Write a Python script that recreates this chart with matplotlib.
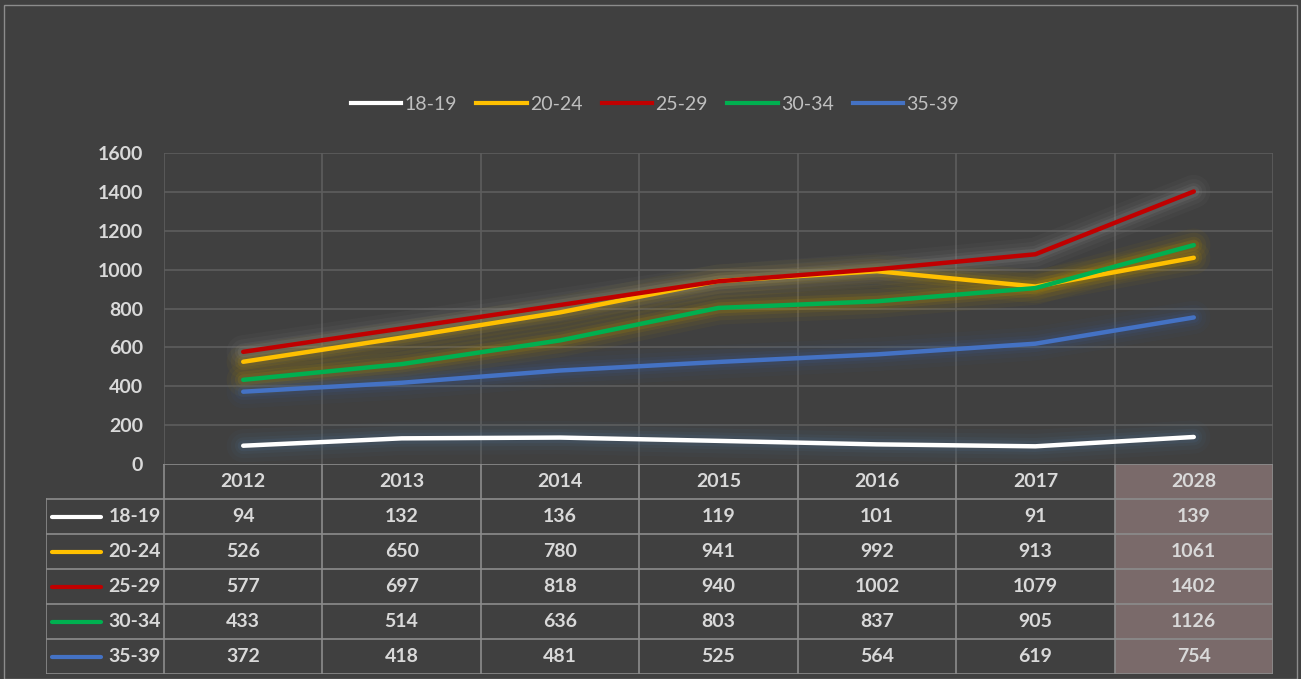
import matplotlib.pyplot as plt
from matplotlib.patches import Rectangle
from matplotlib.lines import Line2D
import numpy as np

plt.rcParams['font.family'] = ['Lato', 'DejaVu Sans']

years = ['2012', '2013', '2014', '2015', '2016', '2017', '2028']
groups = ['18-19', '20-24', '25-29', '30-34', '35-39']
v_18_19 = [94, 132, 136, 119, 101, 91, 139]
v_20_24 = [526, 650, 780, 941, 992, 913, 1061]
v_25_29 = [577, 697, 818, 940, 1002, 1079, 1402]
v_30_34 = [433, 514, 636, 803, 837, 905, 1126]
v_35_39 = [372, 418, 481, 525, 564, 619, 754]
series = [v_18_19, v_20_24, v_25_29, v_30_34, v_35_39]

colors = ['#ffffff', '#ffc000', '#c00000', '#00b050', '#4472c4']
glows = ['#4a6a8a', '#b08a00', '#8a8a8a', '#b08a00', '#3a5a90']

bg = '#404040'
grid_c = '#5e5e5e'
txt = '#d9d9d9'
fs = 14

W, H = 1301, 679
fig = plt.figure(figsize=(W / 100, H / 100), dpi=100, facecolor=bg)

# plot area in pixels
px0, px1 = 164, 1273
py0, py1 = 153, 464
ax = fig.add_axes([px0 / W, 1 - py1 / H, (px1 - px0) / W, (py1 - py0) / H])
ax.set_facecolor(bg)
n = len(years)
x = np.arange(n)
ax.set_xlim(-0.5, n - 0.5)
ax.set_ylim(0, 1600)
ax.set_yticks(range(0, 1601, 200))
ax.set_xticks([])
ax.tick_params(axis='y', length=0, pad=15, colors=txt, labelsize=fs)
for lab in ax.get_yticklabels():
    lab.set_fontweight('bold')
for s in ax.spines.values():
    s.set_visible(False)
for yv in range(200, 1601, 200):
    ax.axhline(yv, color=grid_c, lw=1.2, zorder=0)
for xv in np.arange(-0.5, n, 1.0):
    ax.axvline(xv, color=grid_c, lw=1.2, zorder=0)

# glow then line
for vals, c, g in zip(series, colors, glows):
    for lw, a in [(24, 0.06), (18, 0.08), (12, 0.12), (8, 0.18)]:
        ax.plot(x, vals, color=g, lw=lw, alpha=a, solid_capstyle='round',
                solid_joinstyle='round', zorder=1)
for vals, c in zip(series, colors):
    ax.plot(x, vals, color=c, lw=3.2, solid_capstyle='round',
            solid_joinstyle='round', zorder=3)

# legend at top
handles = [Line2D([], [], color=c, lw=3) for c in colors]
leg = fig.legend(handles, groups, loc='center', bbox_to_anchor=(655 / W, 1 - 104 / H),
                 ncol=5, frameon=False, fontsize=fs, handlelength=2.6,
                 handletextpad=0.15, columnspacing=1.0)
for t in leg.get_texts():
    t.set_color('#bfbfbf')

# data table below
tx0, ty0, ty1 = 46, 464, 674
cw = (px1 - px0) / n
tab = fig.add_axes([tx0 / W, 1 - ty1 / H, (px1 - tx0) / W, (ty1 - ty0) / H])
tab.set_xlim(-0.5 - (px0 - tx0) / cw, n - 0.5)
tab.set_ylim(6, 0)
tab.axis('off')
line_c = '#8c8c8c'
# shaded forecast column
tab.add_patch(Rectangle((n - 1.5, 0), 1, 6, facecolor='#7a6a6a', edgecolor='none', zorder=0))
left = -0.5 - (px0 - tx0) / cw
# header
for i, yr in enumerate(years):
    tab.text(i, 0.5, yr, ha='center', va='center', color=txt, fontsize=fs, fontweight='bold')
for r, (g, vals, c) in enumerate(zip(groups, series, colors)):
    yc = r + 1.5
    tab.plot([left + 0.04, left + 0.35], [yc, yc], color=c, lw=3, solid_capstyle='round')
    tab.text(-0.52, yc, g, ha='right', va='center', color=txt, fontsize=fs, fontweight='bold')
    for i, v in enumerate(vals):
        tab.text(i, yc, str(v), ha='center', va='center', color=txt, fontsize=fs,
                 fontweight='bold')
# grid lines of table
tab.plot([-0.5, n - 0.5], [0, 0], color=line_c, lw=1.2)
for r in range(1, 7):
    tab.plot([left, n - 0.5], [r, r], color=line_c, lw=1.2)
tab.plot([left, left], [1, 6], color=line_c, lw=1.2)
for xv in np.arange(-0.5, n, 1.0):
    tab.plot([xv, xv], [0, 6], color=line_c, lw=1.2)

# outer border
fig.add_artist(Rectangle((4 / W, 0), 1 - 8 / W, 1 - 5 / H, transform=fig.transFigure,
                         fill=False, edgecolor='#8c8c8c', lw=1))

fig.savefig('out.png', dpi=100, facecolor=bg)
